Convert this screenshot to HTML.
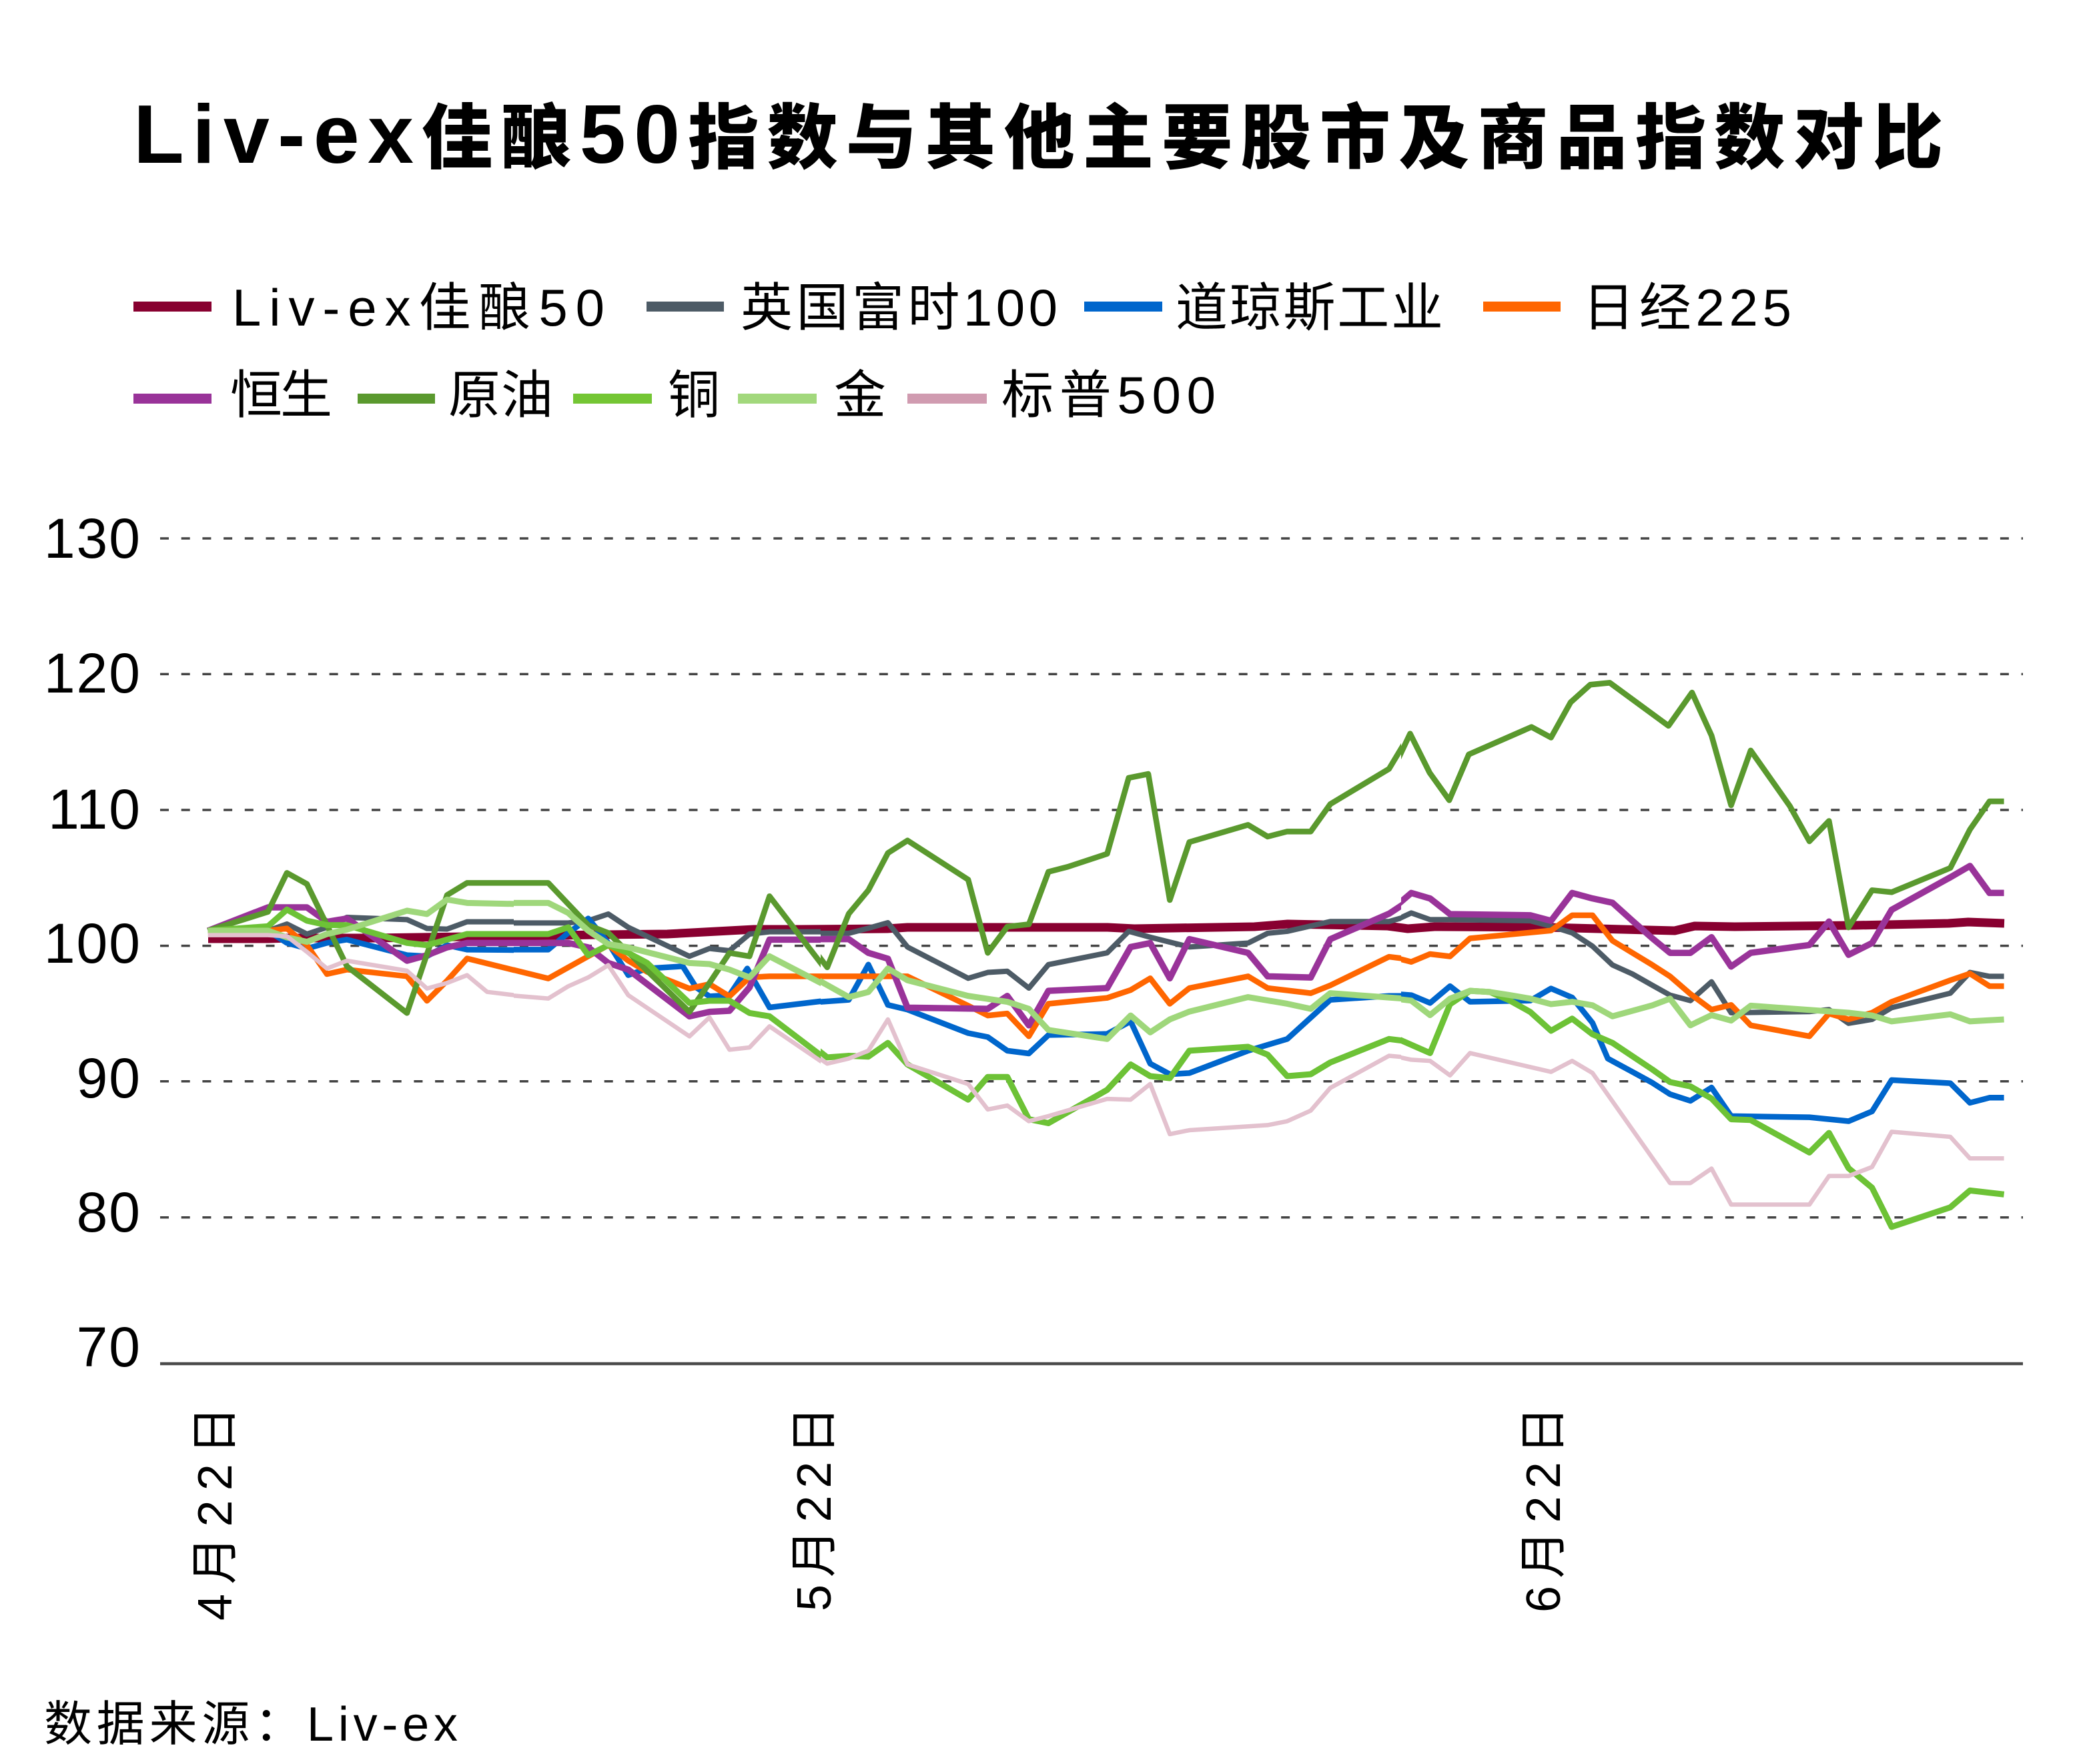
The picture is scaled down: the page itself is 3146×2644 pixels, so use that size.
<!DOCTYPE html>
<html>
<head>
<meta charset="utf-8">
<style>
html,body{margin:0;padding:0;background:#fff;}
svg{display:block;}
.t{font-family:"Liberation Sans","Noto Sans CJK SC",sans-serif;fill:#000;}
.s{fill:none;stroke-linejoin:round;stroke-linecap:butt;vector-effect:non-scaling-stroke;}
.lv{stroke:#880030;stroke-width:13;}
.ftse{stroke:#4d5b66;stroke-width:8;}
.dow{stroke:#0066cc;stroke-width:8.5;}
.nk{stroke:#ff6600;stroke-width:8.5;}
.hs{stroke:#993399;stroke-width:9.5;}
.oil{stroke:#5a992e;stroke-width:8.5;}
.cu{stroke:#6dc236;stroke-width:9;}
.au{stroke:#9fd77b;stroke-width:9;}
.sp{stroke:#e3c1ce;stroke-width:6.5;}
</style>
</head>
<body>
<svg width="3146" height="2644" viewBox="0 0 3146 2644" xmlns="http://www.w3.org/2000/svg">
<rect x="0" y="0" width="3146" height="2644" fill="#fff"/>
<defs>
<clipPath id="cA" clipPathUnits="userSpaceOnUse"><rect x="0" y="0" width="770" height="2644"/></clipPath>
<clipPath id="cB" clipPathUnits="userSpaceOnUse"><rect x="770" y="0" width="460" height="2644"/></clipPath>
<clipPath id="cC" clipPathUnits="userSpaceOnUse"><rect x="1230" y="0" width="870" height="2644"/></clipPath>
<clipPath id="cD" clipPathUnits="userSpaceOnUse"><rect x="2100" y="0" width="1046" height="2644"/></clipPath>
</defs>

<!-- Title -->
<text class="t" x="200" y="244" font-size="106" font-weight="900" textLength="2712" lengthAdjust="spacing"><tspan font-size="124">Liv-ex</tspan>佳酿<tspan font-size="124">50</tspan>指数与其他主要股市及商品指数对比</text>

<!-- Legend row 1 -->
<rect x="200" y="452" width="117" height="15" fill="#880030"/>
<text class="t" x="348" y="488" font-size="78" textLength="558" lengthAdjust="spacing">Liv-ex佳酿50</text>
<rect x="969" y="452" width="116" height="15" fill="#4d5b66"/>
<text class="t" x="1110" y="488" font-size="78" textLength="475" lengthAdjust="spacing">英国富时100</text>
<rect x="1625" y="452" width="117" height="15" fill="#0066cc"/>
<text class="t" x="1762" y="488" font-size="78" textLength="401" lengthAdjust="spacing">道琼斯工业</text>
<rect x="2223" y="452" width="116" height="15" fill="#ff6600"/>
<text class="t" x="2372" y="488" font-size="78" textLength="313" lengthAdjust="spacing">日经225</text>

<!-- Legend row 2 -->
<rect x="200" y="590" width="117" height="15" fill="#993399"/>
<text class="t" x="345" y="619" font-size="78" textLength="153" lengthAdjust="spacing">恒生</text>
<rect x="536" y="590" width="116" height="15" fill="#5a992e"/>
<text class="t" x="672" y="619" font-size="78" textLength="157" lengthAdjust="spacing">原油</text>
<rect x="859" y="590" width="118" height="15" fill="#74c634"/>
<text class="t" x="1001" y="619" font-size="78">铜</text>
<rect x="1106" y="590" width="118" height="15" fill="#a2d87c"/>
<text class="t" x="1250" y="619" font-size="78">金</text>
<rect x="1360" y="590" width="119" height="15" fill="#d09bb0"/>
<text class="t" x="1501" y="619" font-size="78" textLength="321" lengthAdjust="spacing">标普500</text>

<!-- Gridlines -->
<g stroke="#444" stroke-width="3.5" stroke-dasharray="13 18.7">
<line x1="240" y1="807" x2="3032" y2="807"/>
<line x1="240" y1="1010.4" x2="3032" y2="1010.4"/>
<line x1="240" y1="1214" x2="3032" y2="1214"/>
<line x1="240" y1="1417.6" x2="3032" y2="1417.6"/>
<line x1="240" y1="1620.7" x2="3032" y2="1620.7"/>
<line x1="240" y1="1824.8" x2="3032" y2="1824.8"/>
</g>
<line x1="240" y1="2044" x2="3032" y2="2044" stroke="#4a4a4a" stroke-width="4.5"/>

<!-- Y labels -->
<g class="t" font-size="84" text-anchor="end" letter-spacing="2">
<text x="212" y="836">130</text>
<text x="212" y="1038">120</text>
<text x="212" y="1242">110</text>
<text x="212" y="1443">100</text>
<text x="212" y="1645">90</text>
<text x="212" y="1846">80</text>
<text x="212" y="2048">70</text>
</g>

<!-- X labels (rotated) -->
<text class="t" font-size="72" text-anchor="end" transform="translate(347,2108) rotate(-90)" textLength="321" lengthAdjust="spacing">4月22日</text>
<text class="t" font-size="72" text-anchor="end" transform="translate(1245,2108) rotate(-90)" textLength="307" lengthAdjust="spacing">5月22日</text>
<text class="t" font-size="72" text-anchor="end" transform="translate(2338,2108) rotate(-90)" textLength="309" lengthAdjust="spacing">6月22日</text>

<!-- Source -->
<text class="t" x="66" y="2609" font-size="72" textLength="620" lengthAdjust="spacing">数据来源：Liv-ex</text>

<!-- Liv-ex line (full coords) -->
<polyline class="s lv" points="312,1407 402,1407 432,1406 560,1406 700,1404 900,1401 1000,1400 1130,1393 1200,1393 1330,1392 1360,1390 1660,1390 1700,1392 1880,1389 1930,1385 2080,1388 2110,1392 2150,1389 2320,1390 2470,1394 2510,1395 2540,1388 2600,1389 2780,1387 2920,1384 2950,1382 3004,1384"/>

<!-- Section A -->
<g clip-path="url(#cA)">
<g transform="translate(290,1280) scale(0.333333)">
<polyline class="s ftse" points="65,345 335,345 420,315 510,360 600,330 690,285 960,295 1050,335 1140,338 1230,305 1460,305"/>
<polyline class="s dow" points="65,345 335,345 420,400 510,425 600,400 690,385 960,455 1050,460 1140,410 1230,430 1460,432"/>
<polyline class="s nk" points="65,345 335,345 420,335 510,410 600,540 690,520 960,550 1050,660 1140,570 1230,470 1460,527"/>
<polyline class="s hs" points="65,345 335,240 420,240 510,240 600,305 690,290 960,480 1050,455 1140,420 1230,400 1460,400"/>
<polyline class="s oil" points="65,345 335,260 420,85 510,135 600,320 690,505 960,715 1050,450 1140,185 1230,130 1460,130"/>
<polyline class="s cu" points="65,345 335,325 420,250 510,300 600,320 690,320 960,400 1050,410 1140,385 1230,360 1460,360"/>
<polyline class="s au" points="65,345 335,345 420,375 510,395 600,360 690,340 960,255 1050,270 1140,205 1230,220 1460,225"/>
<polyline class="s sp" points="65,365 335,365 420,370 510,440 600,515 690,480 960,525 1050,605 1140,580 1230,545 1320,620 1460,637"/>
</g>
</g>

<!-- Section B -->
<g clip-path="url(#cB)">
<g transform="translate(750,1280) scale(0.333333)">
<polyline class="s ftse" points="-150,305 0,310 305,310 395,300 485,270 575,330 850,460 940,425 1030,435 1120,360 1210,350 1460,350"/>
<polyline class="s dow" points="-150,430 215,430 305,355 395,290 485,400 575,545 660,515 820,505 880,600 940,640 1030,635 1110,515 1210,690 1460,660"/>
<polyline class="s nk" points="-150,470 215,560 305,510 395,460 485,410 575,480 660,530 850,605 940,585 1030,640 1120,555 1210,550 1460,550"/>
<polyline class="s hs" points="-150,400 305,400 395,420 485,490 575,520 850,730 940,710 1030,705 1120,600 1210,385 1460,385"/>
<polyline class="s oil" points="-150,130 215,130 305,225 395,320 485,355 850,710 940,580 1030,445 1120,460 1210,190 1460,516"/>
<polyline class="s cu" points="-150,360 215,360 305,330 395,455 485,410 575,445 660,490 850,670 940,660 1030,660 1120,715 1210,730 1460,920"/>
<polyline class="s au" points="-150,220 215,220 305,265 395,345 485,405 575,420 850,490 940,495 1030,520 1120,555 1210,460 1460,590"/>
<polyline class="s sp" points="-150,545 -60,620 60,637 215,650 305,595 395,555 485,500 575,635 850,820 940,735 1030,880 1120,870 1210,775 1460,945"/>
</g>
</g>

<!-- Section C -->
<g clip-path="url(#cC)">
<g transform="translate(1190,950) scale(0.58676)">
<polyline class="s ftse" points="0,765 140,765 190,752 240,738 290,800 445,880 495,865 545,862 600,905 650,845 700,835 800,815 855,760 910,775 1010,800 1160,790 1210,765 1260,760 1370,735 1520,735 1600,712"/>
<polyline class="s dow" points="0,945 140,935 190,845 240,948 290,960 445,1020 495,1030 545,1065 600,1072 650,1025 800,1022 860,990 910,1098 960,1125 1010,1122 1160,1065 1210,1050 1260,1035 1370,935 1520,925 1600,925"/>
<polyline class="s nk" points="0,875 290,875 445,950 495,975 545,970 600,1028 650,945 800,930 860,910 910,880 960,945 1010,905 1160,875 1210,905 1320,918 1370,898 1520,825 1600,835"/>
<polyline class="s hs" points="0,780 140,780 190,815 240,830 290,955 495,958 545,925 600,1000 650,912 800,905 860,800 910,790 960,880 1010,780 1160,815 1210,875 1320,878 1370,780 1520,715 1600,662"/>
<polyline class="s oil" points="0,740 85,852 140,715 190,655 240,560 290,528 445,628 495,815 545,748 600,742 650,608 700,595 800,562 855,368 905,358 960,680 1010,532 1160,488 1210,518 1260,505 1320,505 1370,435 1520,345 1574,255 1600,270"/>
<polyline class="s cu" points="0,1015 85,1082 140,1078 190,1080 240,1045 290,1100 445,1190 495,1132 545,1132 600,1240 650,1250 800,1165 860,1100 910,1130 960,1135 1010,1065 1160,1055 1210,1075 1260,1130 1320,1125 1370,1095 1520,1035 1600,1045"/>
<polyline class="s au" points="0,850 140,928 190,915 240,855 290,885 445,925 545,940 600,958 650,1012 800,1035 860,975 910,1018 960,985 1010,965 1160,928 1260,945 1320,958 1370,918 1600,935"/>
<polyline class="s sp" points="0,1040 85,1098 140,1085 190,1065 240,985 290,1100 445,1150 495,1215 545,1205 600,1245 650,1232 800,1188 860,1190 910,1150 960,1278 1010,1268 1210,1255 1260,1245 1320,1218 1370,1160 1520,1078 1600,1085"/>
</g>
</g>

<!-- Section D -->
<g clip-path="url(#cD)">
<g transform="translate(2090,950) scale(0.58676)">
<polyline class="s ftse" points="0,733 43,713 91,730 142,730 347,733 400,747 454,764 506,798 557,846 608,869 659,898 704,923 756,937 810,889 860,968 1060,965 1110,960 1160,995 1220,985 1270,955 1420,918 1470,865 1520,875 1557,875"/>
<polyline class="s dow" points="0,920 43,923 91,943 142,900 193,940 347,937 400,906 454,929 506,994 545,1085 608,1119 659,1147 704,1176 756,1193 810,1159 860,1232 1060,1235 1160,1245 1220,1220 1270,1140 1420,1148 1470,1198 1520,1185 1557,1185"/>
<polyline class="s nk" points="0,827 43,838 91,818 142,824 193,778 400,758 454,719 506,719 557,784 608,815 659,846 704,875 756,920 810,960 860,948 910,1000 1060,1028 1110,970 1160,985 1220,968 1270,940 1420,885 1470,868 1520,900 1557,900"/>
<polyline class="s hs" points="0,699 43,662 91,676 142,716 347,719 400,733 454,662 506,676 557,687 608,733 659,778 704,815 756,815 810,775 860,850 910,815 1060,795 1110,735 1160,820 1220,790 1270,705 1420,622 1470,593 1520,662 1557,662"/>
<polyline class="s oil" points="0,340 40,255 90,355 140,425 190,308 350,238 400,265 450,175 500,130 550,125 700,235 760,150 810,260 860,438 910,298 1010,440 1060,530 1110,478 1160,750 1220,655 1270,660 1420,598 1470,500 1520,428 1557,428"/>
<polyline class="s cu" points="0,1031 91,1071 142,946 193,912 244,915 295,937 347,966 400,1014 454,983 506,1023 557,1045 608,1079 659,1113 704,1145 756,1156 810,1187 860,1240 910,1242 1060,1325 1110,1275 1160,1365 1220,1415 1270,1515 1420,1465 1470,1422 1557,1432"/>
<polyline class="s au" points="0,932 43,937 91,974 142,932 193,912 244,915 295,923 347,932 400,946 454,940 506,949 557,977 608,963 659,949 704,932 756,1000 810,974 860,988 910,950 1160,968 1220,975 1270,990 1420,972 1470,990 1557,985"/>
<polyline class="s sp" points="0,1079 43,1088 91,1091 142,1128 193,1071 400,1119 454,1091 506,1122 704,1403 756,1403 810,1366 860,1458 1060,1458 1110,1385 1160,1385 1220,1362 1270,1272 1420,1285 1470,1340 1557,1340"/>
</g>
</g>
</svg>
</body>
</html>
